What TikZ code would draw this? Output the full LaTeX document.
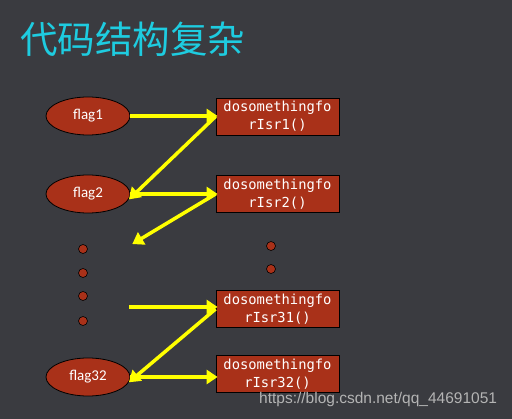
\documentclass[tikz,border=0pt]{standalone}
\usepackage{fontspec}
\setmainfont{Carlito}
\newfontfamily\flagf{Carlito}
\newfontfamily\cjk{Noto Sans CJK SC}
\newfontfamily\monof{DejaVu Sans Mono}
\newfontfamily\wmfont{Liberation Sans}
\usetikzlibrary{shapes.geometric,arrows.meta}
\definecolor{bgc}{HTML}{3A3B40}
\definecolor{rust}{HTML}{A93119}
\definecolor{titlec}{HTML}{1ECCE0}
\definecolor{arrowc}{HTML}{FFFF00}
\definecolor{wmc}{HTML}{B4B4B4}
\tikzset{
  flagnode/.style={ellipse, draw=black, line width=0.8pt, fill=rust, minimum width=84pt, minimum height=38pt, inner sep=0pt, text=white, font=\flagf\fontsize{15}{17}\selectfont},
  funcbox/.style={rectangle, draw=black, line width=0.8pt, fill=rust, minimum width=123pt, minimum height=37pt, inner sep=0pt, text=white, align=center, font=\monof\fontsize{13.8}{18}\selectfont},
  dotnode/.style={circle, draw=black, line width=0.6pt, fill=rust, minimum size=9pt, inner sep=0pt},
  yarrow/.style={draw=arrowc, line width=3.5pt, -{Triangle[length=11pt,width=14pt]}, shorten >=-2pt}
}
\begin{document}
\begin{tikzpicture}[x=1pt,y=-1pt]
\fill[bgc] (0,0) rectangle (512,419);
\useasboundingbox (0,0) rectangle (512,419);
\node[anchor=west, text=titlec, font=\cjk\fontsize{37.5}{40}\selectfont, inner sep=0pt] (title) at (20,39) {代码结构复杂};
\node[flagnode] (f1) at (88,116) {flag1};
\node[flagnode] (f2) at (88,194) {flag2};
\node[flagnode] (f32) at (88,377) {flag32};
\node[funcbox] (b1) at (277.5,116.5) {dosomethingfo\\rIsr1()};
\node[funcbox] (b2) at (277.5,194) {dosomethingfo\\rIsr2()};
\node[funcbox] (b31) at (277.5,309) {dosomethingfo\\rIsr31()};
\node[funcbox] (b32) at (277.5,374) {dosomethingfo\\rIsr32()};
\node[dotnode] (d1) at (83,249) {};
\node[dotnode] (d2) at (83,273) {};
\node[dotnode] (d3) at (83,296) {};
\node[dotnode] (d4) at (83,321) {};
\node[dotnode] (d5) at (271,246) {};
\node[dotnode] (d6) at (271,269) {};
\coordinate (e1) at (134,243);
\coordinate (s1) at (129,307);
\draw[yarrow] (f1.east) -- (b1.west |- f1.east);
\draw[yarrow] (b1.west) -- ([yshift=-4pt]f2.east);
\draw[yarrow] (f2.east) -- (b2.west |- f2.east);
\draw[yarrow] (b2.west) -- (e1);
\draw[yarrow] (s1) -- (b31.west |- s1);
\draw[yarrow] (b31.west) -- ([yshift=-4pt]f32.east);
\draw[yarrow] (f32.east) -- (b32.west |- f32.east);
\node[anchor=west, text=wmc, font=\wmfont\fontsize{15.5}{18}\selectfont, inner sep=0pt] (wm) at (259,399) {https://blog.csdn.net/qq\_44691051};
\end{tikzpicture}
\end{document}
